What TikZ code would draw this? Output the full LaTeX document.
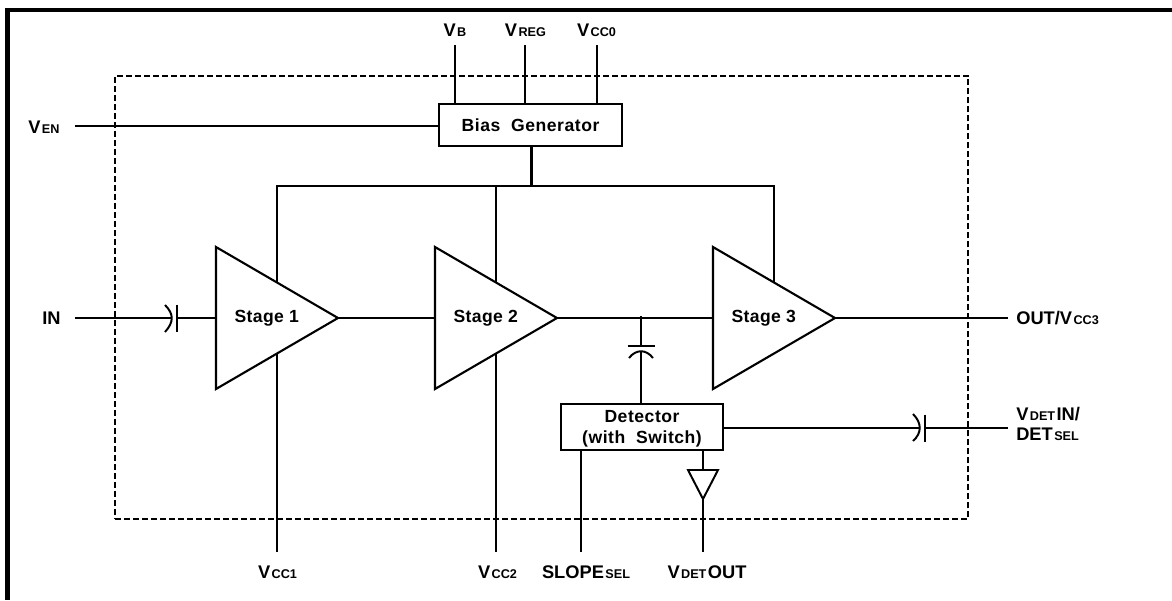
\documentclass[tikz,border=0pt]{standalone}
\usepackage{fontspec}
\setmainfont{Liberation Sans}
\usetikzlibrary{shapes.geometric,calc}
\newcommand{\lowtxt}[1]{\kern1pt{\fontsize{9}{10}\selectfont #1}}
\tikzset{
    wire/.style={line width=1.4pt},
    pinlabel/.style={font=\bfseries\fontsize{13}{14.5}\selectfont, inner sep=0pt, align=left},
    blockbox/.style={draw, rectangle, line width=1.5pt, inner sep=0pt, align=center,
        font=\bfseries\fontsize{12.5}{15.5}\selectfont\addfontfeature{LetterSpace=3}},
    stagebox/.style={draw, isosceles triangle, isosceles triangle stretches, line width=1.5pt,
        inner sep=0pt, outer sep=0pt, minimum width=3.55cm, minimum height=3.05cm, anchor=apex,
        font=\bfseries\fontsize{12.5}{14}\selectfont\addfontfeature{LetterSpace=2},
        execute at begin node={\hspace*{4.2pt}}}
}
\begin{document}
\begin{tikzpicture}[x=0.025cm, y=-0.025cm]
    \useasboundingbox (0,0) rectangle (1172,600);

    % Frame
    \draw[line width=2.9pt] (1172,10) -- (5,10);
    \draw[line width=3.6pt] (7.5,8) -- (7.5,600);

    % Chip outline
    \node[draw, rectangle, line width=1.3pt, dash pattern=on 4.2pt off 2.2pt, minimum width=21.325cm, minimum height=11.075cm] (chip) at (541.5,297.5) {};

    % Bias Generator
    \node[blockbox, minimum width=4.575cm, minimum height=1.05cm] (bias) at (530.5,125) {Bias\ \ Generator};

    % Stages
    \node[stagebox] (stage1) at (338,318) {Stage 1};
    \node[stagebox] (stage2) at (557,318) {Stage 2};
    \node[stagebox] (stage3) at (835,318) {Stage 3};

    % Detector
    \node[blockbox, minimum width=4.05cm, minimum height=1.15cm] (detector) at (642,427) {Detector\\\smash{(with\ \ Switch)}};

    % Output buffer
    \node[draw, isosceles triangle, isosceles triangle stretches, shape border rotate=270, line width=1.4pt, inner sep=0pt, outer sep=0pt, minimum width=0.75cm, minimum height=0.725cm, anchor=apex] (buffer) at (703,499) {};

    % Pin labels
    \node[pinlabel] (vb) at (455,30) {V\lowtxt{B}};
    \node[pinlabel] (vreg) at (525.5,30) {V\lowtxt{REG}};
    \node[pinlabel] (vcc0) at (596.5,30) {V\lowtxt{CC0}};
    \node[pinlabel, anchor=west] (ven) at (28,127) {V\lowtxt{EN}};
    \node[pinlabel, anchor=west] (in) at (42,318) {IN};
    \node[pinlabel, anchor=west] (out) at (1016,318) {OUT/V\lowtxt{CC3}};
    \node[pinlabel, anchor=west] (vdetin) at (1016,424) {V\lowtxt{DET}\kern1pt IN/\\DET\lowtxt{SEL}};
    \node[pinlabel] (vcc1) at (277.5,572) {V\lowtxt{CC1}};
    \node[pinlabel] (vcc2) at (497.5,572) {V\lowtxt{CC2}};
    \node[pinlabel] (slope) at (586,572) {SLOPE\lowtxt{SEL}};
    \node[pinlabel] (vdetout) at (707,572) {V\lowtxt{DET}\kern1pt OUT};

    % Free ends and junctions
    \coordinate (vbend) at (455,45);
    \coordinate (vregend) at (525,45);
    \coordinate (vccend) at (597,45);
    \coordinate (venend) at (75,126);
    \coordinate (inend) at (75,318);
    \coordinate (outend) at (1008,318);
    \coordinate (detinend) at (1008,428);
    \coordinate (lowrail) at (0,552);
    \coordinate (bus) at (531.5,186);
    \coordinate (incap) at (177,318);
    \coordinate (detcap) at (919,428);
    \coordinate (tap) at (641,316);
    \coordinate (tapcap) at (641,346);
    \coordinate (tapback) at (641,351);
    \coordinate (slopeend) at (581,552);

    % Connections
    \draw[wire] (vbend) -- (vbend |- bias.north);
    \draw[wire] (vregend) -- (vregend |- bias.north);
    \draw[wire] (vccend) -- (vccend |- bias.north);
    \draw[wire] (venend) -- (venend -| bias.west);
    \draw[line width=2.2pt] (bus |- bias.south) -- (bus);
    \draw[wire] (stage1.left side) |- (bus) -| (stage3.left side);
    \draw[wire] (stage2.left side) -- (stage2.left side |- bus);
    \draw[wire] (stage1.right side) -- (stage1.right side |- lowrail);
    \draw[wire] (stage2.right side) -- (stage2.right side |- lowrail);
    \draw[wire] (inend) -- (172,318);
    \draw[wire] (incap) -- (stage1.lower side);
    \draw[wire] (stage1.apex) -- (stage2.lower side);
    \draw[wire] (stage2.apex) -- (stage3.lower side);
    \draw[wire] (stage3.apex) -- (outend);
    \draw[wire] (tap) -- (tapcap);
    \draw[wire] (tapback) -- (tapback |- detector.north);
    \draw[wire] (detector.east |- detinend) -- (detcap);
    \draw[wire] (925,428) -- (detinend);
    \draw[wire] (slopeend |- detector.south) -- (slopeend);
    \draw[wire] (buffer.lower side |- detector.south) -- (buffer.lower side);
    \draw[wire] (buffer.apex) -- (buffer.apex |- lowrail);

    % Capacitors
    \draw[wire] (incap) ++(0,-13.5) -- ++(0,27);
    \draw[wire] (165,305) .. controls (174,314) and (174,322) .. (165,332);
    \draw[wire] (925,414.5) -- (925,441.5);
    \draw[wire] (913,414) .. controls (922,423) and (922,433) .. (913,441);
    \draw[wire] (tapcap) ++(-13.5,0) -- ++(27,0);
    \draw[wire] (629,358) .. controls (636,349) and (646,349) .. (653,358);
\end{tikzpicture}
\end{document}
